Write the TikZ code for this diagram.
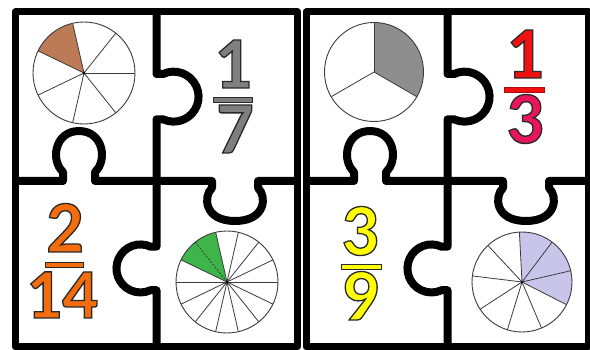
\documentclass[tikz,border=0pt]{standalone}
\usepackage{fontspec}
\setmainfont{Carlito}
\definecolor{pieline}{HTML}{3C3C3C}
\definecolor{brownfill}{HTML}{BC7A56}
\definecolor{greenfill}{HTML}{3DB54A}
\definecolor{grayfill}{HTML}{8E8E8E}
\definecolor{lavfill}{HTML}{C9C5EA}
\definecolor{numgray}{HTML}{7F7F7F}
\definecolor{numorange}{HTML}{F36C0E}
\definecolor{numred}{HTML}{F01010}
\definecolor{numpink}{HTML}{E8155A}
\definecolor{numyellow}{HTML}{FFFF00}
\definecolor{numline}{HTML}{2A2A2A}
\newcommand{\outlinedtext}[1]{\special{pdf:literal direct 2 Tr 1.3 w 0.16 0.16 0.16 RG}#1\special{pdf:literal direct 0 Tr}}
\newcommand{\puzzleframe}{%
  \draw[puzframe] (15,12) rectangle (297.5,347);
  \draw[puz] (156.5,12) -- (156.5,74) -- (163,74)
     arc[start angle=-115,end angle=115,radius=25] -- (156.5,119.3)
     -- (156.5,246.7) -- (150.6,246.7)
     arc[start angle=-65,end angle=-295,radius=24] -- (156.5,290.2) -- (156.5,347);
  \draw[puz] (15,181) -- (63,181) -- (63,172)
     .. controls (50,160) and (55,131) .. (79,131)
     .. controls (103,131) and (108,160) .. (95,172) -- (95,181)
     -- (212,181) -- (212,188)
     .. controls (203,196) and (204,221) .. (235,221)
     .. controls (266,221) and (267,196) .. (258,188) -- (258,181) -- (297.5,181);
}
\begin{document}
\begin{tikzpicture}[x=1pt,y=-1pt,
  puz/.style={draw=black,line width=8pt,line join=round},
  puzframe/.style={draw=black,line width=7pt,line join=round},
  pie/.style={draw=pieline,line width=0.9pt},
  spoke/.style={draw=pieline,line width=0.8pt},
  num/.style={font=\fontsize{74}{74}\selectfont\bfseries,inner sep=0pt,anchor=base,
              text height=0.63em,text depth=0pt},
  bar/.style={draw=numline,line width=0.8pt}]
\useasboundingbox (0,0) rectangle (590,350);
\fill[white] (0,0) rectangle (590,350);

% ---------- left puzzle ----------
\puzzleframe
% pie 1/7
\coordinate (c1) at (84,73);
\fill[brownfill] (c1) -- ++(-102.86:51) arc[start angle=-102.86,end angle=-154.29,radius=51] -- cycle;
\foreach \k in {0,...,6} \draw[spoke] (c1) -- ++({-\k*360/7}:51);
\draw[pie] (c1) circle[radius=51];
\fill (c1) circle[radius=1.3];
% pie 2/14
\coordinate (c2) at (227,282);
\fill[greenfill] (c2) -- ++(-102.86:51) arc[start angle=-102.86,end angle=-154.29,radius=51] -- cycle;
\foreach \k in {0,...,13} {\ifnum\k=5\else\draw[spoke] (c2) -- ++({-\k*360/14}:51);\fi}
\draw[spoke,dashed,dash pattern=on 2pt off 1.5pt] (c2) -- ++(-128.57:51);
\draw[pie] (c2) circle[radius=51];
\fill (c2) circle[radius=1.3];
% fraction 1/7
\node[num,text=numgray] (a1) at (233,88) {\outlinedtext{1}};
\draw[bar,fill=numgray] (213,97) rectangle (252,102);
\node[num,text=numgray] (a7) at (235,153) {\outlinedtext{7}};
% fraction 2/14
\node[num,text=numorange] (b2) at (65,252) {\outlinedtext{2}};
\draw[bar,fill=numorange] (45,262) rectangle (83,267);
\node[num,text=numorange,font=\fontsize{71}{71}\selectfont\bfseries] (b14) at (62,318) {\outlinedtext{14}};

% ---------- right puzzle ----------
\begin{scope}[xshift=291pt]
\puzzleframe
\end{scope}
% pie 1/3
\coordinate (c3) at (374,72);
\fill[grayfill] (c3) -- ++(-90:49.5) arc[start angle=-90,end angle=30,radius=49.5] -- cycle;
\foreach \a in {90,210,330} \draw[spoke] (c3) -- ++({-\a}:49.5);
\draw[pie] (c3) circle[radius=49.5];
% pie 3/9
\coordinate (c4) at (522,282);
\fill[lavfill] (c4) -- ++(-93:50) arc[start angle=-93,end angle=27,radius=50] -- cycle;
\foreach \k in {0,...,8} \draw[spoke] (c4) -- ++({40*\k-93}:50);
\draw[pie] (c4) circle[radius=50];
\fill (c4) circle[radius=1.3];
% fraction 1/3
\node[num,text=numred] (d1) at (525,78) {\outlinedtext{1}};
\draw[bar,draw=numred!70!black,fill=numred] (504,87) rectangle (544,92);
\node[num,text=numpink] (d3) at (525,143) {\outlinedtext{3}};
% fraction 3/9
\node[num,text=numyellow] (e3) at (360,255) {\outlinedtext{3}};
\draw[bar,fill=numyellow] (341,264) rectangle (381,269);
\node[num,text=numyellow] (e9) at (360,320) {\outlinedtext{9}};
\end{tikzpicture}
\end{document}
